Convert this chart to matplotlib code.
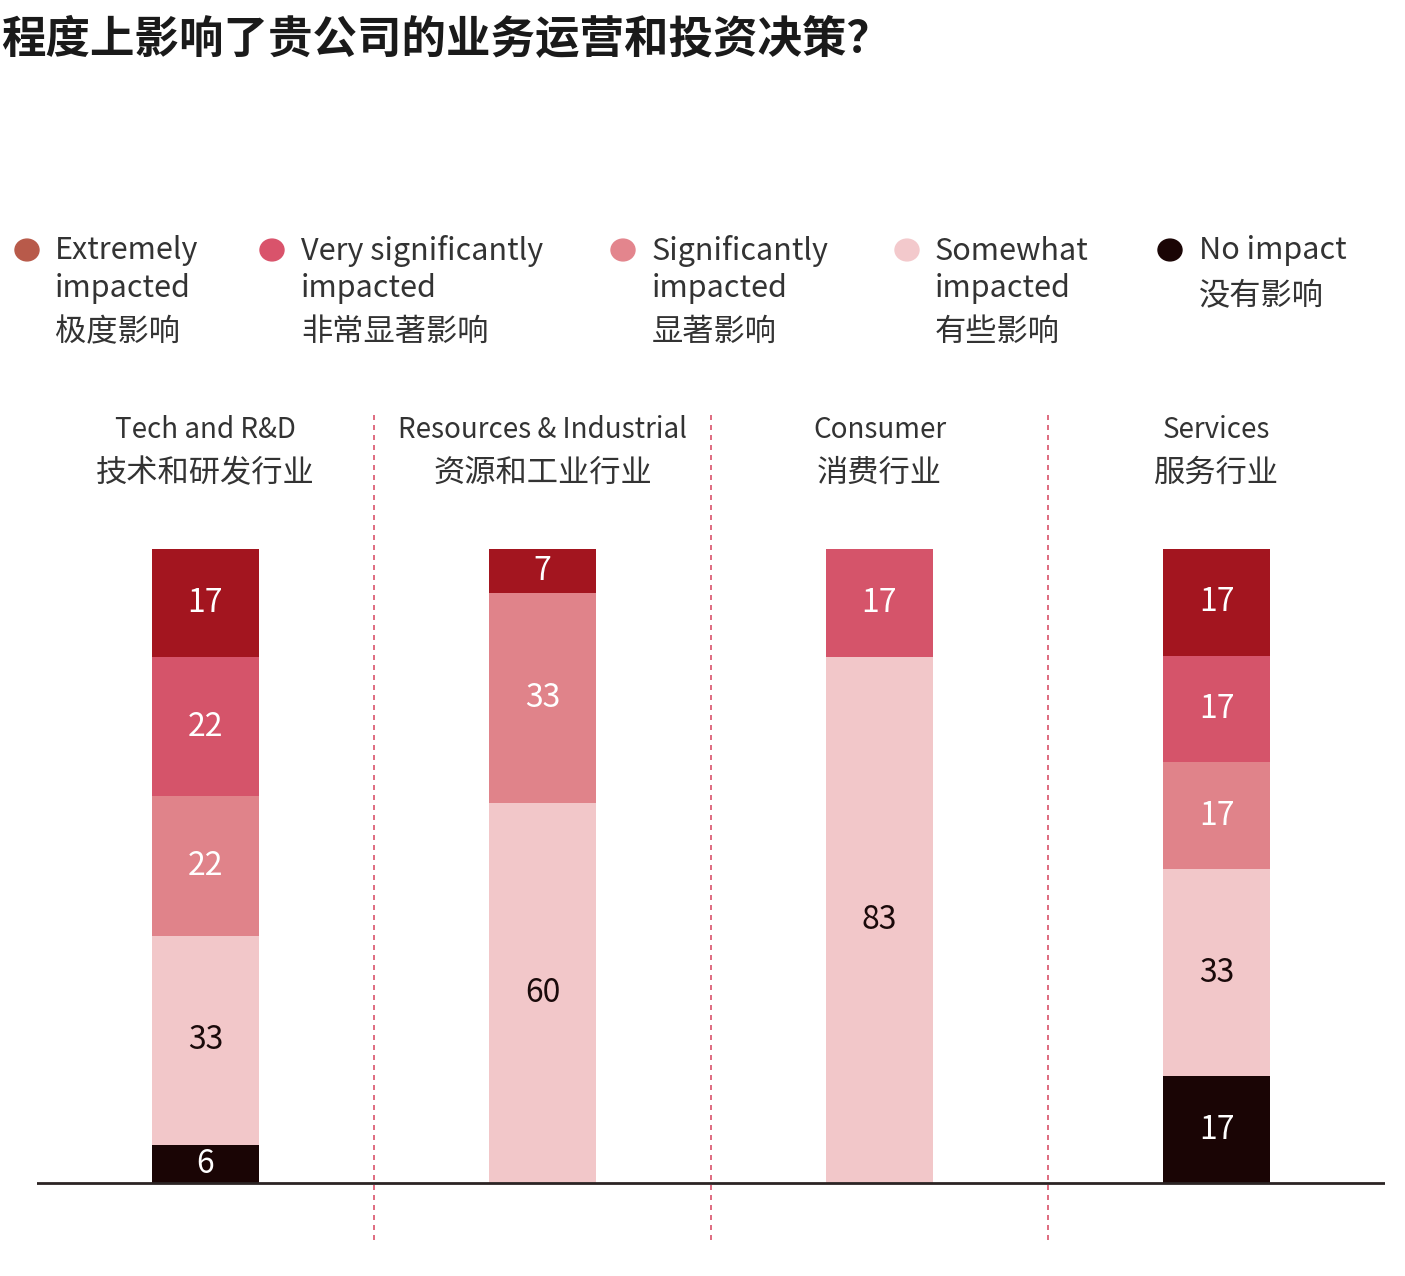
import numpy as np
import matplotlib.pyplot as plt
from matplotlib import font_manager

plt.rcParams['font.family'] = ['Noto Sans CJK SC', 'DejaVu Sans']

categories_en = ["Tech and R&D", "Resources & Industrial", "Consumer", "Services"]
categories_cn = ["技术和研发行业", "资源和工业行业", "消费行业", "服务行业"]

levels_en = ["Extremely\nimpacted", "Very significantly\nimpacted", "Significantly\nimpacted",
             "Somewhat\nimpacted", "No impact"]
levels_cn = ["极度影响", "非常显著影响", "显著影响", "有些影响", "没有影响"]

# top-to-bottom order in each bar
extremely = [17, 7, 0, 17]
very_sig = [22, 0, 17, 17]
significant = [22, 33, 0, 17]
somewhat = [33, 60, 83, 33]
no_impact = [6, 0, 0, 17]

bar_colors = ["#A3151F", "#D5546A", "#E0838A", "#F2C7C9", "#1A0505"]
dot_colors = ["#B85A4A", "#D9536B", "#E3858D", "#F3C9CC", "#1A0505"]
label_colors = ["white", "white", "white", "#1A0A0A", "white"]

title = "程度上影响了贵公司的业务运营和投资决策？"

W, H = 1405, 1276
fig = plt.figure(figsize=(W / 100, H / 100), dpi=100)

# axes in pixel coordinates
left, right, top, bottom = 37, 1385, 410, 1240
ax = fig.add_axes([left / W, 1 - bottom / H, (right - left) / W, (bottom - top) / H])
ppu = (1183 - 549) / 100.0
ax.set_xlim(-0.5, 3.5)
ax.set_ylim(-(bottom - 1183) / ppu, (1183 - top) / ppu)
ax.axis('off')

series = [no_impact, somewhat, significant, very_sig, extremely]
s_colors = bar_colors[::-1]
s_lbl = label_colors[::-1]
x = np.arange(len(categories_en))
totals = np.sum(series, axis=0)
base = np.zeros(len(x))
for vals, c, lc in zip(series, s_colors, s_lbl):
    v = np.array(vals, dtype=float)
    h = v / totals * 100
    ax.bar(x, h, bottom=base, width=107 / 337, color=c, linewidth=0)
    for i in range(len(x)):
        if v[i] > 0:
            ax.text(x[i], base[i] + h[i] / 2, f"{int(v[i])}", ha='center', va='center',
                    color=lc, fontsize=23, fontweight='medium')
    base += h

ax.axhline(0, color='#2B2424', lw=2, zorder=3)
ylo = ax.get_ylim()[0]
for xs in [0.5, 1.5, 2.5]:
    ax.plot([xs, xs], [ylo, (1183 - 415) / ppu], color='#D9536B', lw=1.2,
            ls=(0, (3, 3)), zorder=1)

# category labels
for i in range(len(x)):
    xc = (left + (i + 0.5) * 337) / W
    fig.text(xc, 1 - 430 / H, categories_en[i], ha='center', va='center',
             fontsize=20, color='#333333', fontweight='light')
    fig.text(xc, 1 - 473 / H, categories_cn[i], ha='center', va='center',
             fontsize=22.5, color='#333333', fontweight='light')

# legend
dot_x = [27, 272, 623, 907, 1170]
txt_x = [55, 301, 652, 935, 1199]
for i in range(5):
    fig.patches.append(plt.Circle((dot_x[i] / W, 1 - 250 / H), 12 / W,
                                  transform=fig.transFigure, color=dot_colors[i],
                                  figure=fig))
    lines = levels_en[i].split("\n") + [levels_cn[i]]
    ys = [251, 288, 332] if len(lines) == 3 else [251, 296]
    for j, (t, yy) in enumerate(zip(lines, ys)):
        fs = 22.5 if j == len(lines) - 1 else 22
        fig.text(txt_x[i] / W, 1 - yy / H, t, ha='left', va='center',
                 fontsize=fs, color='#333333', fontweight='light')

fig.text(1 / W, 1 - 40 / H, title, ha='left', va='center', fontsize=32,
         fontweight='bold', color='#1A1A1A')

plt.savefig("out.png", dpi=100)
